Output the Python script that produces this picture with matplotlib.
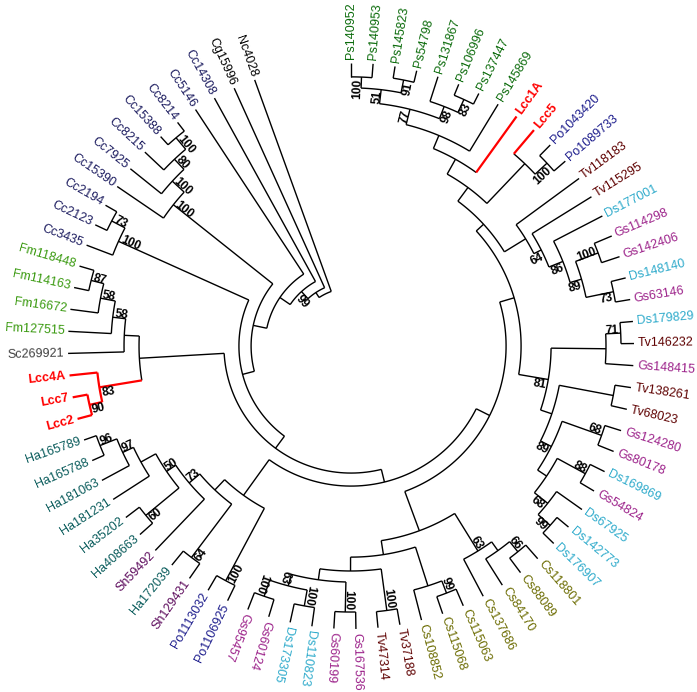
import numpy as np
import matplotlib
matplotlib.use('Agg')
import matplotlib.pyplot as plt

# leaf order, clockwise from the top
LEAVES = [
    'Ps140952', 'Ps140953', 'Ps145823', 'Ps54798', 'Ps131867', 'Ps106996',
    'Ps137447', 'Ps145869', 'Lcc1A', 'Lcc5', 'Po1043420', 'Po1089733',
    'Tv118183', 'Tv115295', 'Ds177001', 'Gs114298', 'Gs142406', 'Ds148140',
    'Gs63146', 'Ds179829', 'Tv146232', 'Gs148415', 'Tv138261', 'Tv68023',
    'Gs124280', 'Gs80178', 'Ds169869', 'Gs54824', 'Ds67925', 'Ds142773',
    'Ds176907', 'Cs118801', 'Cs88089', 'Cs84170', 'Cs137686', 'Cs115063',
    'Cs115068', 'Cs108852', 'Tv37188', 'Tv47314', 'Gs167536', 'Gs60199',
    'Ds110823', 'Ds173305', 'Gs60124', 'Gs95457', 'Po1106925', 'Po1113032',
    'Sh129431', 'Ha172039', 'Sh59492', 'Ha408663', 'Ha35202', 'Ha181231',
    'Ha181063', 'Ha165788', 'Ha165789', 'Lcc2', 'Lcc7', 'Lcc4A', 'Sc269921',
    'Fm127515', 'Fm16672', 'Fm114163', 'Fm118448', 'Cc3435', 'Cc2123',
    'Cc2194', 'Cc15390', 'Cc7925', 'Cc8215', 'Cc15388', 'Cc8214', 'Cc5146',
    'Cc14308', 'Cg15996', 'Nc4028',
]

# internal clades (children before parents)
CLADES = [
    ('A', 'Ps140952', 'Ps140953'), ('Bp', 'Ps145823', 'Ps54798'),
    ('C', 'A', 'Bp'), ('F', 'Ps106996', 'Ps137447'), ('E', 'Ps131867', 'F'),
    ('D', 'C', 'E'), ('G', 'D', 'Ps145869'), ('H', 'G', 'Lcc1A'),
    ('PoN', 'Po1043420', 'Po1089733'), ('J', 'Lcc5', 'PoN'), ('I', 'H', 'J'),
    ('M1', 'Gs114298', 'Gs142406'), ('M2', 'Ds148140', 'Gs63146'),
    ('M3', 'M1', 'M2'), ('M4', 'Ds177001', 'M3'), ('M5', 'Tv115295', 'M4'),
    ('M6', 'Tv118183', 'M5'), ('K', 'I', 'M6'),
    ('Q71', 'Ds179829', 'Tv146232'), ('Q', 'Q71', 'Gs148415'),
    ('P1', 'Tv138261', 'Tv68023'), ('P2', 'Gs124280', 'Gs80178'),
    ('P3', 'Ds169869', 'Gs54824'), ('P4', 'Ds142773', 'Ds176907'),
    ('P5', 'Ds67925', 'P4'), ('P6', 'P3', 'P5'), ('P7', 'P2', 'P6'),
    ('P8', 'P1', 'P7'), ('N81', 'Q', 'P8'), ('V', 'K', 'N81'),
    ('S66', 'Cs118801', 'Cs88089'), ('B1b', 'S66', 'Cs84170'),
    ('B1', 'B1b', 'Cs137686'), ('S99', 'Cs115063', 'Cs115068'),
    ('B2a', 'S99', 'Cs108852'), ('TvP', 'Tv37188', 'Tv47314'),
    ('GsB', 'Gs167536', 'Gs60199'), ('DsA', 'Ds110823', 'Ds173305'),
    ('GsA', 'Gs60124', 'Gs95457'), ('N63', 'DsA', 'GsA'),
    ('Ng', 'GsB', 'N63'), ('B2b', 'TvP', 'Ng'), ('B2', 'B2a', 'B2b'),
    ('B', 'B1', 'B2'), ('W', 'V', 'B'),
    ('PoP', 'Po1106925', 'Po1113032'), ('H7', 'Sh129431', 'Ha172039'),
    ('H4', 'Ha408663', 'Ha35202'), ('H1', 'Ha165788', 'Ha165789'),
    ('H2', 'Ha181063', 'H1'), ('H3', 'Ha181231', 'H2'), ('H5', 'H4', 'H3'),
    ('H6', 'Sh59492', 'H5'), ('H8', 'H7', 'H6'), ('Z1', 'PoP', 'H8'),
    ('Y', 'W', 'Z1'),
    ('LccP', 'Lcc2', 'Lcc7'), ('LccG', 'LccP', 'Lcc4A'),
    ('Fm87', 'Fm114163', 'Fm118448'), ('FmS2', 'Fm16672', 'Fm87'),
    ('FmS3', 'Fm127515', 'FmS2'), ('FmS4', 'Sc269921', 'FmS3'),
    ('FmG', 'LccG', 'FmS4'), ('X', 'Y', 'FmG'),
    ('CcB1', 'Cc2123', 'Cc2194'), ('CcB', 'Cc3435', 'CcB1'),
    ('N2', 'X', 'CcB'),
    ('CcP1', 'Cc15388', 'Cc8214'), ('CcP2', 'Cc8215', 'CcP1'),
    ('CcP3', 'Cc7925', 'CcP2'), ('CcA', 'Cc15390', 'CcP3'),
    ('N1', 'N2', 'CcA'), ('R', 'N1', 'Cc5146'), ('S', 'R', 'Cc14308'),
    ('T', 'S', 'Cg15996'), ('root', 'T', 'Nc4028'),
]

# node depth from the root (tips = 1.0)
DEPTH = {
    'root': 0.205, 'T': 0.226, 'S': 0.26, 'R': 0.304, 'N1': 0.353,
    'N2': 0.396, 'X': 0.449, 'Y': 0.495, 'W': 0.548, 'V': 0.601,
    'K': 0.636, 'I': 0.696, 'H': 0.756, 'G': 0.806, 'D': 0.862,
    'C': 0.912, 'A': 0.951, 'Bp': 0.958, 'E': 0.908, 'F': 0.958,
    'J': 0.89, 'PoN': 0.947,
    'M6': 0.724, 'M5': 0.753, 'M4': 0.806, 'M3': 0.848, 'M1': 0.933,
    'M2': 0.947,
    'N81': 0.707, 'Q': 0.901, 'Q71': 0.954, 'P8': 0.749, 'P1': 0.943,
    'P7': 0.792, 'P2': 0.94, 'P6': 0.83, 'P3': 0.943, 'P5': 0.89,
    'P4': 0.947,
    'B': 0.696, 'B1': 0.852, 'B1b': 0.89, 'S66': 0.936, 'B2': 0.746,
    'B2a': 0.89, 'S99': 0.936, 'B2b': 0.795, 'TvP': 0.943, 'Ng': 0.834,
    'GsB': 0.94, 'N63': 0.876, 'DsA': 0.933, 'GsA': 0.936,
    'Z1': 0.65, 'H8': 0.70, 'H6': 0.749, 'H5': 0.788, 'H3': 0.848,
    'H2': 0.89, 'H1': 0.954, 'H4': 0.94, 'H7': 0.936, 'PoP': 0.94,
    'FmG': 0.749, 'FmS4': 0.802, 'FmS3': 0.848, 'FmS2': 0.901,
    'Fm87': 0.947, 'LccG': 0.901, 'LccP': 0.947,
    'CcA': 0.802, 'CcP3': 0.859, 'CcP2': 0.908, 'CcP1': 0.961,
    'CcB': 0.901, 'CcB1': 0.954,
}

BOOTSTRAP = {
    'A': 100, 'C': 51, 'Bp': 91, 'D': 77, 'E': 98, 'F': 83, 'PoN': 100,
    'M5': 64, 'M4': 86, 'M3': 89, 'M1': 100, 'M2': 73,
    'Q71': 71, 'N81': 81, 'P7': 89, 'P2': 68, 'P3': 88, 'P5': 68, 'P4': 99,
    'S66': 66, 'B1': 63, 'S99': 99, 'TvP': 100, 'GsB': 100, 'DsA': 100,
    'N63': 63, 'GsA': 100, 'PoP': 100, 'H7': 64, 'H4': 60, 'H6': 73,
    'H5': 50, 'H2': 97, 'H1': 96, 'LccP': 90, 'LccG': 83, 'FmS3': 58,
    'FmS2': 58, 'Fm87': 87, 'CcB': 100, 'CcB1': 73, 'CcA': 100,
    'CcP3': 100, 'CcP2': 80, 'CcP1': 100, 'S': 99,
}

RED_BRANCHES = {'Lcc1A', 'Lcc5', 'LccG', 'LccP', 'Lcc4A', 'Lcc7', 'Lcc2'}

LABEL_COLORS = {
    'Ps': '#0b6b0b', 'Lcc': '#ff0000', 'Po': '#1c1c8c', 'Tv': '#5e0000',
    'Ds': '#2daacb', 'Gs': '#9c228a', 'Cs': '#6b6b00', 'Sh': '#5c0a5c',
    'Ha': '#0a5c5c', 'Sc': '#404040', 'Fm': '#3a9a10', 'Cc': '#1a1a5e',
    'Cg': '#000000', 'Nc': '#000000',
}

CX, CY = 351.0, 346.0
R_TIP = 283.0
STEP = 4.475
FLIP_LIMIT = -113.0   # labels below this angle are drawn the other way up

plt.rcParams['font.family'] = ['Liberation Sans', 'DejaVu Sans']


def xy(r, ang):
    a = np.radians(ang)
    return CX + r * np.cos(a), CY - r * np.sin(a)


def label_color(name):
    for pre in ('Lcc', 'Ps', 'Po', 'Tv', 'Ds', 'Gs', 'Cs', 'Sh', 'Ha', 'Sc',
                'Fm', 'Cc', 'Cg', 'Nc'):
        if name.startswith(pre):
            return LABEL_COLORS[pre]
    return 'black'


def main():
    ang = {n: 90.0 - i * STEP for i, n in enumerate(LEAVES)}
    rad = {n: R_TIP for n in LEAVES}
    parent = {}
    for name, a, b in CLADES:
        ang[name] = (ang[a] + ang[b]) / 2
        rad[name] = DEPTH[name] * R_TIP
        parent[a] = (name, b)
        parent[b] = (name, a)

    fig = plt.figure(figsize=(6.97, 6.92), dpi=100)
    ax = fig.add_axes([0, 0, 1, 1])
    ax.set_xlim(0, 697)
    ax.set_ylim(692, 0)
    ax.axis('off')

    for name, a, b in CLADES:
        r0 = rad[name]
        red = name in RED_BRANCHES
        t = np.linspace(ang[a], ang[b], 60)
        x, y = xy(r0, t)
        ax.plot(x, y, color='red' if red else 'black',
                lw=1.6 if red else 1.0, solid_capstyle='butt', zorder=2)
        for c in (a, b):
            cred = c in RED_BRANCHES
            x, y = xy(np.array([r0, rad[c]]), ang[c])
            ax.plot(x, y, color='red' if cred else 'black',
                    lw=1.6 if cred else 1.0, solid_capstyle='butt',
                    zorder=3 if cred else 2)

    # leaf labels
    for n in LEAVES:
        a = ang[n]
        x, y = xy(R_TIP + 4, a)
        right = a >= FLIP_LIMIT
        bold = n.startswith('Lcc')
        ax.text(x, y, n, rotation=a if right else a + 180,
                rotation_mode='anchor', ha='left' if right else 'right',
                va='center', fontsize=9, color=label_color(n),
                fontweight='bold' if bold else 'normal')

    # bootstrap values, just inside each node on the side away from its sibling
    for node, val in BOOTSTRAP.items():
        a = ang[node]
        p, sib = parent[node]
        upper = a > ang[sib]
        x, y = xy(rad[node] - 1.5, a)
        right = FLIP_LIMIT <= a <= 100
        if right:
            va = 'baseline' if upper else 'top'
            rot, ha = a, 'right'
        else:
            va = 'top' if upper else 'baseline'
            rot, ha = a + 180, 'left'
        ax.text(x, y, str(val), rotation=rot, rotation_mode='anchor',
                ha=ha, va=va, fontsize=8.6, fontweight='bold', color='black',
                zorder=4)

    fig.savefig('out.png', dpi=100)
    plt.close(fig)


if __name__ == '__main__':
    main()
